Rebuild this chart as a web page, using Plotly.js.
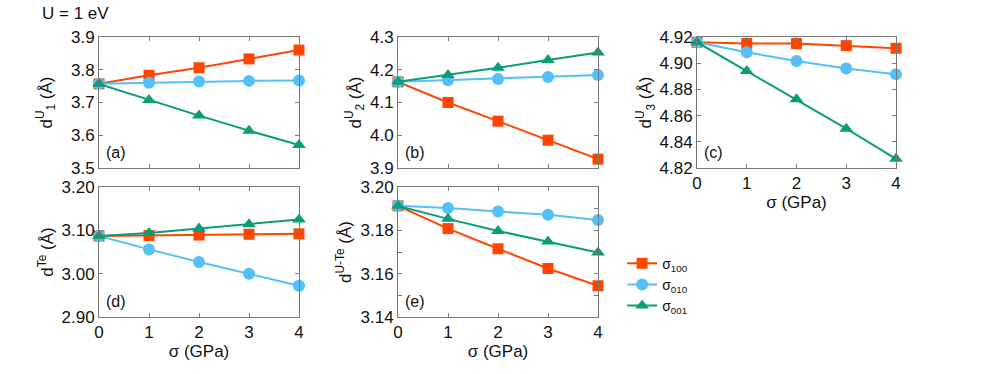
<!DOCTYPE html>
<html>
<head>
<meta charset="utf-8">
<script src="https://cdn.plot.ly/plotly-3.0.1.min.js"></script>
<style>
  body { margin: 0; background: white; }
  #graph { width: 997px; height: 374px; }
</style>
</head>
<body>
<div id="graph"></div>
<script>
// presion (GPa)
const sigma = [0, 1, 2, 3, 4];

// (a) d^U_1
const dU1_100 = [3.757, 3.783, 3.806, 3.833, 3.860];
const dU1_010 = [3.757, 3.760, 3.764, 3.766, 3.767];
const dU1_001 = [3.757, 3.708, 3.660, 3.614, 3.570];

// (b) d^U_2
const dU2_100 = [4.163, 4.100, 4.043, 3.985, 3.927];
const dU2_010 = [4.163, 4.168, 4.172, 4.178, 4.184];
const dU2_001 = [4.163, 4.184, 4.206, 4.230, 4.253];

// (c) d^U_3
const dU3_100 = [4.916, 4.915, 4.915, 4.9134, 4.9114];
const dU3_010 = [4.916, 4.9083, 4.9017, 4.896, 4.8915];
const dU3_001 = [4.916, 4.894, 4.8724, 4.850, 4.827];

// (d) d^Te
const dTe_100 = [3.087, 3.088, 3.089, 3.091, 3.092];
const dTe_010 = [3.087, 3.056, 3.027, 3.000, 2.972];
const dTe_001 = [3.087, 3.094, 3.104, 3.114, 3.125];

// (e) d^U-Te
const dUTe_100 = [3.1913, 3.1808, 3.1715, 3.1624, 3.1544];
const dUTe_010 = [3.1913, 3.1903, 3.1887, 3.1872, 3.1848];
const dUTe_001 = [3.1913, 3.1853, 3.1797, 3.1748, 3.1698];

const nomes = ['σ<sub>100</sub>', 'σ<sub>010</sub>', 'σ<sub>001</sub>'];
const cores = ['#ff4500', '#55bff8', '#0a9e74'];
const simbolos = ['square', 'circle', 'triangle-up'];

const paineis = [
    { ys: [dU1_100, dU1_010, dU1_001], ax: '' },
    { ys: [dU2_100, dU2_010, dU2_001], ax: '2' },
    { ys: [dU3_100, dU3_010, dU3_001], ax: '3' },
    { ys: [dTe_100, dTe_010, dTe_001], ax: '4' },
    { ys: [dUTe_100, dUTe_010, dUTe_001], ax: '5' },
];

const traces = [];
paineis.forEach((p, i) => {
    p.ys.forEach((y, k) => {
        traces.push({
            x: sigma,
            y: y,
            xaxis: 'x' + p.ax,
            yaxis: 'y' + p.ax,
            type: 'scatter',
            mode: 'lines+markers',
            name: nomes[k],
            legendgroup: 'g' + k,
            showlegend: i === 0,
            line: { color: cores[k], width: 2 },
            marker: { color: cores[k], symbol: simbolos[k], size: k === 0 ? 11 : 12 },
            cliponaxis: false,
        });
    });
});

const familia = "'Liberation Sans', Arial, sans-serif";
const fonte = { family: familia, size: 17, color: '#111' };

function eixoX(dom, anchor, labels) {
    return {
        domain: dom, anchor: anchor, range: [0, 4], dtick: 1,
        showticklabels: labels,
        ticks: 'inside', ticklen: 4, tickcolor: '#777',
        showline: true, linecolor: '#777', mirror: 'ticks',
        showgrid: false, zeroline: false,
        tickfont: fonte,
        title: labels ? { text: 'σ (GPa)', font: fonte, standoff: 2 } : undefined,
    };
}

function eixoY(dom, anchor, range, dtick, fmt, titulo, standoff, minor) {
    const e = {
        domain: dom, anchor: anchor, range: range, dtick: dtick, tickformat: fmt,
        ticks: 'inside', ticklen: 4, tickcolor: '#777',
        showline: true, linecolor: '#777', mirror: 'ticks',
        showgrid: false, zeroline: false,
        tickfont: fonte,
        title: { text: titulo, font: fonte, standoff: standoff },
    };
    if (minor) e.minor = { dtick: minor, ticks: 'inside', ticklen: 4, tickcolor: '#777' };
    return e;
}

const col1 = [0.0993, 0.2999], col2 = [0.3992, 0.5998], col3 = [0.6991, 0.8987];
const lin1 = [0.5508, 0.9011], lin2 = [0.1524, 0.5];

const rotulos = ['(a)', '(b)', '(c)', '(d)', '(e)'].map((t, i) => ({
    text: t, xref: 'x' + (i ? i + 1 : '') + ' domain', yref: 'y' + (i ? i + 1 : '') + ' domain',
    x: 0.025, y: 0.04, xanchor: 'left', yanchor: 'bottom', showarrow: false,
    font: { family: familia, size: 16, color: '#111' },
}));

const layout = {
    width: 997, height: 374,
    margin: { l: 0, r: 0, t: 0, b: 0 },
    paper_bgcolor: 'white', plot_bgcolor: 'white',
    font: fonte,
    showlegend: true,
    legend: {
        x: 0.624, y: 0.338, xanchor: 'left', yanchor: 'top',
        font: { family: familia, size: 14, color: '#111' },
        tracegroupgap: 0, itemwidth: 30,
        bgcolor: 'rgba(0,0,0,0)',
    },
    xaxis: eixoX(col1, 'y', false),
    yaxis: eixoY(lin1, 'x', [3.5, 3.9], 0.1, '.1f', 'd<sup>U</sup><sub>1</sub> (Å)', 14),
    xaxis2: eixoX(col2, 'y2', false),
    yaxis2: eixoY(lin1, 'x2', [3.9, 4.3], 0.1, '.1f', 'd<sup>U</sup><sub>2</sub> (Å)', 4),
    xaxis3: eixoX(col3, 'y3', true),
    yaxis3: eixoY(lin1, 'x3', [4.82, 4.92], 0.02, '.2f', 'd<sup>U</sup><sub>3</sub> (Å)', 3),
    xaxis4: eixoX(col1, 'y4', true),
    yaxis4: eixoY(lin2, 'x4', [2.9, 3.2], 0.1, '.2f', 'd<sup>Te</sup> (Å)', 3),
    xaxis5: eixoX(col2, 'y5', true),
    yaxis5: eixoY(lin2, 'x5', [3.14, 3.2], 0.02, '.2f', 'd<sup>U-Te</sup> (Å)', 4, 0.01),
    annotations: [
        { text: 'U = 1 eV', xref: 'paper', yref: 'paper', x: 0.04, y: 0.995,
          xanchor: 'left', yanchor: 'top', showarrow: false, font: fonte },
        ...rotulos,
    ],
};

Plotly.newPlot('graph', traces, layout, { displayModeBar: false, staticPlot: true });
</script>
</body>
</html>
